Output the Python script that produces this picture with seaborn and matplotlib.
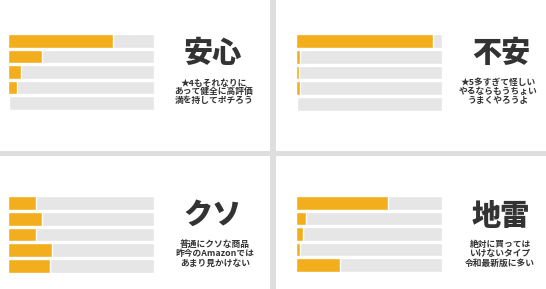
import matplotlib
matplotlib.use("Agg")
import matplotlib.pyplot as plt
import seaborn as sns
import pandas as pd
from matplotlib.patches import Rectangle

# ---- data ----
stars = ["★5", "★4", "★3", "★2", "★1"]
anshin = [72, 23, 9, 6, 1]
fuan = [94, 3, 2, 3, 1]
kuso = [19, 23, 19, 30, 29]
jirai = [63, 7, 5, 2.5, 30]
full_scale = [100, 100, 100, 100, 100]
titles = ["安心", "不安", "クソ", "地雷"]
notes = [
    ["★4もそれなりに", "あって健全に高評価", "満を持してポチろう"],
    ["★5多すぎて怪しい", "やるならもうちょい", "うまくやろうよ"],
    ["普通にクソな商品", "昨今のAmazonでは", "あまり見かけない"],
    ["絶対に買っては", "いけないタイプ", "令和最新版に多い"],
]
series = [anshin, fuan, kuso, jirai]

sns.set_theme(style="white")
plt.rcParams["font.family"] = ["Noto Sans CJK JP", "DejaVu Sans"]

W, H = 546, 289
fig = plt.figure(figsize=(W / 100, H / 100), dpi=100)
fig.patch.set_facecolor("white")

ORANGE = "#F2AE1C"
GRAY = "#E6E6E6"
TXT = "#333333"

# panel geometry in pixels: (left, top, right, bottom)
boxes = [(8, 33, 154, 111), (296, 33, 442, 112), (8, 195, 154, 274), (296, 195, 442, 273)]
title_pos = [(213, 53.5), (501, 53.5), (213, 215), (501, 216.5)]
note_pos = [(214, [83, 91.7, 100.6]), (498, [82.5, 91.5, 100.5]),
            (215, [244.2, 253.7, 263.2]), (500, [244.3, 253.7, 263.2])]

# separators between slides
fig.add_artist(Rectangle((270 / W, 0), 6 / W, 1, transform=fig.transFigure,
                         facecolor="#DEDEDE", edgecolor="none", zorder=0))
fig.add_artist(Rectangle((0, 1 - 156 / H), 1, 5 / H, transform=fig.transFigure,
                         facecolor="#DEDEDE", edgecolor="none", zorder=0))

for i, vals in enumerate(series):
    l, t, r, b = boxes[i]
    ax = fig.add_axes([l / W, 1 - b / H, (r - l) / W, (b - t) / H])
    df = pd.DataFrame({"star": stars, "full": full_scale, "val": vals})
    sns.barplot(data=df, x="full", y="star", order=stars, color=GRAY,
                saturation=1, width=0.88, ax=ax)
    sns.barplot(data=df, x="val", y="star", order=stars, color=ORANGE,
                saturation=1, width=0.88, ax=ax)
    ax.set_xlim(0, 100)
    ax.set_ylim(4.5, -0.5)
    ax.axis("off")

    tx, ty = title_pos[i]
    fig.text(tx / W, 1 - ty / H, titles[i], ha="center", va="center",
             fontsize=21, fontweight="heavy", color=TXT,
             family=["Noto Sans CJK JP", "DejaVu Sans"])
    nx, ys = note_pos[i]
    for line, y in zip(notes[i], ys):
        fig.text(nx / W, 1 - y / H, line, ha="center", va="center",
                 fontsize=6.3, fontweight="bold", color=TXT,
                 family=["Noto Sans CJK JP", "DejaVu Sans"])

fig.savefig("out.png", dpi=100, facecolor="white")
